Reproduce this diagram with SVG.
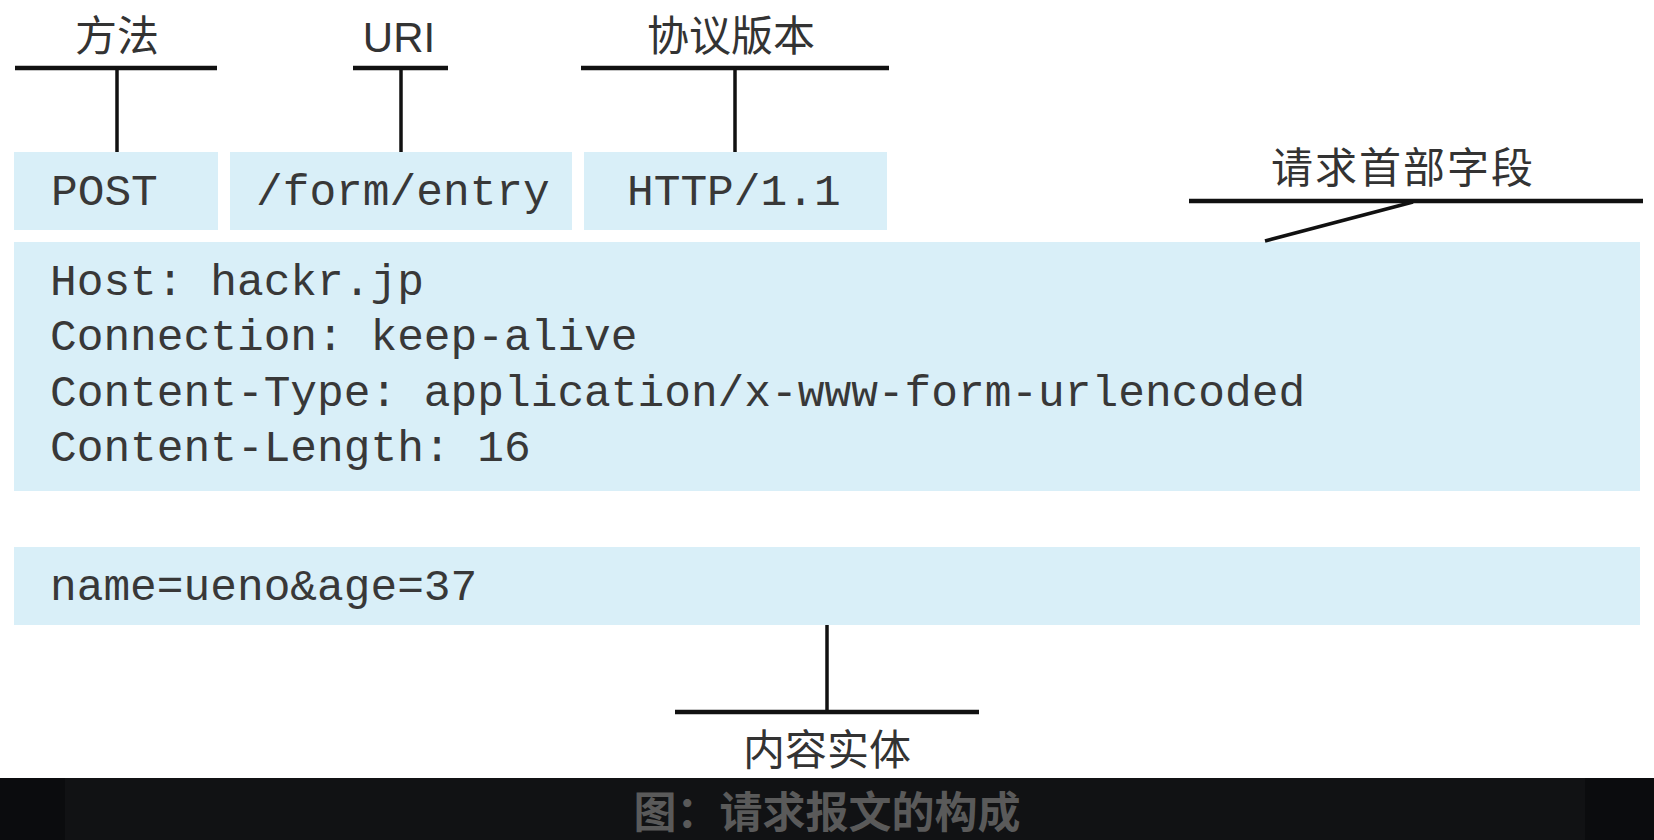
<svg xmlns="http://www.w3.org/2000/svg" width="1654" height="840" viewBox="0 0 1654 840">
<style>
.box{fill:#d9eff8}
.mono{font-family:"Liberation Mono","Courier New",monospace;font-size:44.5px;fill:#383838}
.lbl{font-family:"Noto Sans CJK SC","Liberation Sans",sans-serif;font-size:42px;fill:#333}
.lat{font-family:"Liberation Sans",Arial,sans-serif;font-size:42px;fill:#333}
.bar{stroke:#111;stroke-width:4.5;fill:none}
.stem{stroke:#111;stroke-width:3.5;fill:none}
.cap{font-family:"Noto Sans CJK SC",sans-serif;font-size:43px;font-weight:bold;fill:#5a5a5a}
</style>
<rect x="0" y="0" width="1654" height="840" fill="#ffffff"/>
<g id="method">
<rect class="box" x="14" y="152" width="204" height="78"/>
<text class="mono" x="51" y="205">POST</text>
</g>
<g id="uri">
<rect class="box" x="230" y="152" width="342" height="78"/>
<text class="mono" x="256" y="205">/form/entry</text>
</g>
<g id="version">
<rect class="box" x="584" y="152" width="303" height="78"/>
<text class="mono" x="627" y="205">HTTP/1.1</text>
</g>
<g id="headers">
<rect class="box" x="14" y="242" width="1626" height="249"/>
<text class="mono" x="50" y="295">Host: hackr.jp</text>
<text class="mono" x="50" y="350">Connection: keep-alive</text>
<text class="mono" x="50" y="406">Content-Type: application/x-www-form-urlencoded</text>
<text class="mono" x="50" y="461">Content-Length: 16</text>
</g>
<g id="body">
<rect class="box" x="14" y="547" width="1626" height="78"/>
<text class="mono" x="50" y="600">name=ueno&amp;age=37</text>
</g>
<g id="label-method">
<text class="lbl" x="117" y="51" text-anchor="middle">方法</text>
</g>
<g id="label-uri">
<text class="lat" x="399" y="52" text-anchor="middle">URI</text>
</g>
<g id="label-version">
<text class="lbl" x="731" y="51" text-anchor="middle">协议版本</text>
</g>
<g id="label-headers">
<text class="lbl" x="1403" y="183" text-anchor="middle" letter-spacing="2">请求首部字段</text>
</g>
<g id="label-body">
<text class="lbl" x="827" y="765" text-anchor="middle">内容实体</text>
</g>
<g id="connectors">
<line class="bar" x1="15" y1="68" x2="217" y2="68"/>
<line class="stem" x1="117" y1="68" x2="117" y2="152"/>
<line class="bar" x1="353" y1="68" x2="448" y2="68"/>
<line class="stem" x1="401" y1="68" x2="401" y2="152"/>
<line class="bar" x1="581" y1="68" x2="889" y2="68"/>
<line class="stem" x1="735" y1="68" x2="735" y2="152"/>
<line class="bar" x1="1189" y1="201" x2="1643" y2="201"/>
<line class="stem" x1="1413" y1="202" x2="1265" y2="241"/>
<line class="stem" x1="827" y1="625" x2="827" y2="712"/>
<line class="bar" x1="675" y1="712" x2="979" y2="712"/>
</g>
<g id="caption">
<rect x="0" y="778" width="1654" height="62" fill="#111214"/>
<rect x="0" y="778" width="65" height="62" fill="#0b0c0e"/>
<rect x="1585" y="778" width="69" height="62" fill="#0b0c0e"/>
<text class="cap" x="827" y="828" text-anchor="middle">图：请求报文的构成</text>
</g>
</svg>
